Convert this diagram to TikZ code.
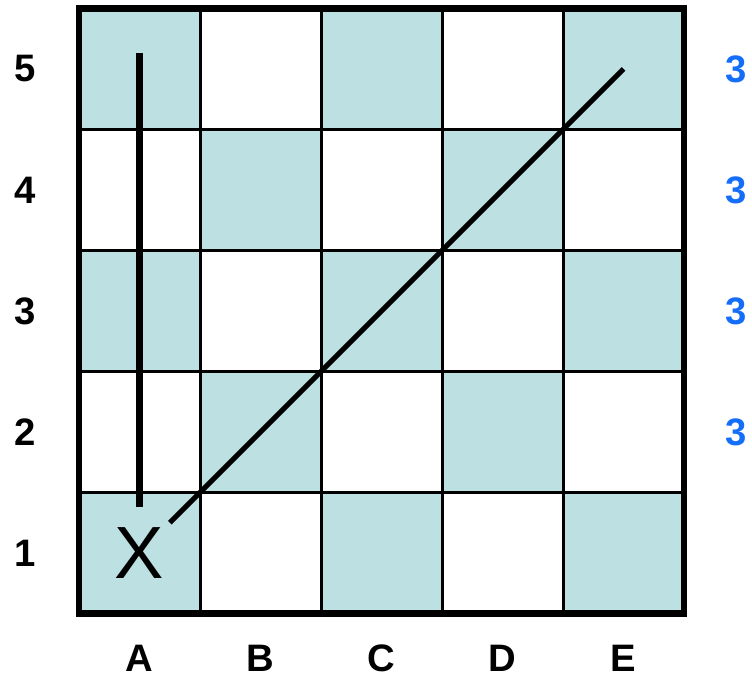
\documentclass[tikz,border=0pt]{standalone}
\usepackage{fontspec}
\setmainfont{Liberation Sans}
\definecolor{caseclaire}{RGB}{189,224,227}
\definecolor{chiffrebleu}{RGB}{20,110,250}
\tikzset{
  etiquette/.style={font=\fontsize{9}{11}\selectfont\bfseries, inner sep=0pt},
  compte/.style={etiquette, text=chiffrebleu},
  trait/.style={line width=1.5pt},
}
\begin{document}
\begin{tikzpicture}[x=1cm,y=1cm]
		\useasboundingbox (-0.653,-0.541) rectangle (5.562,5.070);
		% Cases colorees
		\fill[caseclaire] (0,0) rectangle (1,1) (2,0) rectangle (3,1) (4,0) rectangle (5,1);
		\fill[caseclaire] (1,1) rectangle (2,2) (3,1) rectangle (4,2);
		\fill[caseclaire] (0,2) rectangle (1,3) (2,2) rectangle (3,3) (4,2) rectangle (5,3);
		\fill[caseclaire] (1,3) rectangle (2,4) (3,3) rectangle (4,4);
		\fill[caseclaire] (0,4) rectangle (1,5) (2,4) rectangle (3,5) (4,4) rectangle (5,5);
		
		% Quadrillage
		\draw[line width=0.7pt] (0,0) grid (5,5);
		\draw[trait] (0,0) rectangle (5,5);
		
		% Etiquettes
		\foreach \n in {1,...,5}
			\node[etiquette] (ligne\n) at (-0.446,\n-0.5) {\n};
		\foreach \c [count=\i] in {A,B,C,D,E}
			\node[etiquette] (col\c) at (\i-0.5,-0.368) {\c};
		\foreach \n in {2,...,5}
			\node[compte] (compte\n) at (5.43,\n-0.5) {3};
		
		% Depart
		\node[font=\fontsize{17.4}{20}\selectfont, inner sep=0pt] (depart) at (0.5,0.5) {X};
		
		% Deplacements
		\coordinate (bas) at (0.5,0.88);
		\coordinate (haut) at (0.5,4.63);
		\coordinate (diagA) at (0.75,0.75);
		\coordinate (diagB) at (4.5,4.5);
		\draw[trait] (bas) -- (haut);
		\draw[line width=1.2pt] (diagA) -- (diagB);
	\end{tikzpicture}
\end{document}
